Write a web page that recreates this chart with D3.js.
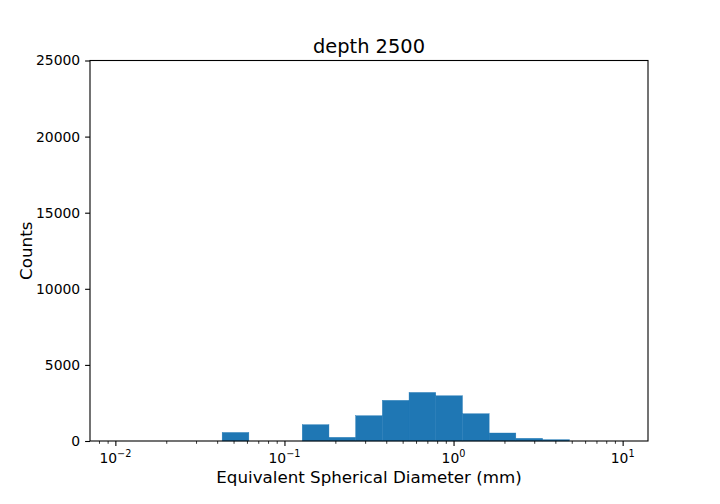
<!DOCTYPE html>
<html>
<head>
<meta charset="utf-8">
<script src="https://cdn.jsdelivr.net/npm/d3@7"></script>
<style>
  body { margin: 0; background: #fff; }
  text { font-family: "DejaVu Sans", sans-serif; fill: #000; }
</style>
</head>
<body>
<div id="chart"></div>
<script>
// bin edges (mm), log-spaced
const binEdges = [0.01, 0.014384, 0.020691, 0.029764, 0.042813, 0.061585, 0.088587,
  0.127427, 0.183298, 0.263665, 0.379269, 0.545559, 0.784760, 1.128838,
  1.623777, 2.335721, 3.359818, 4.832930, 6.951928, 10];
// counts per bin
const counts = [0, 0, 0, 0, 560, 0, 0, 1070, 240, 1660, 2670, 3190, 2970, 1790, 525, 175, 87, 0, 0];
const yTicks = [0, 5000, 10000, 15000, 20000, 25000];
const xMajor = [0.01, 0.1, 1, 10];
const xExp = ["\u22122", "\u22121", "0", "1"];

const width = 720, height = 504;
const margin = {left: 90, right: 72, top: 60.5, bottom: 63};

const svg = d3.select("#chart").append("svg")
  .attr("width", width)
  .attr("height", height);

const x = d3.scaleLog()
  .domain([Math.pow(10, -2.15), Math.pow(10, 1.15)])
  .range([margin.left, width - margin.right]);

const y = d3.scaleLinear()
  .domain([0, 25000])
  .range([height - margin.bottom, margin.top]);

const bins = counts.map((c, i) => ({x0: binEdges[i], x1: binEdges[i + 1], n: c}));

// bars (thin stroke hides the seams between neighbours)
svg.append("g")
  .selectAll("rect")
  .data(bins.filter(d => d.n > 0))
  .enter()
  .append("rect")
  .attr("x", d => x(d.x0))
  .attr("width", d => x(d.x1) - x(d.x0))
  .attr("y", d => y(d.n))
  .attr("height", d => y(0) - y(d.n))
  .attr("fill", "#1f77b4")
  .attr("stroke", "#1f77b4")
  .attr("stroke-width", 0.4);

// y axis
const yAxis = svg.append("g")
  .attr("transform", `translate(${margin.left},0)`)
  .call(d3.axisLeft(y).tickValues(yTicks).tickSize(4.9).tickPadding(4.9).tickFormat(d3.format("d")));
yAxis.select(".domain").remove();
yAxis.selectAll("text").style("font-size", "13.9px");
yAxis.selectAll("line").attr("stroke-width", 1.1);

// x axis: minor ticks
const minor = [];
[0.001, 0.01, 0.1, 1, 10].forEach(p => {
  for (let k = 2; k <= 9; k++) {
    const v = p * k;
    if (v > x.domain()[0] && v < x.domain()[1]) minor.push(v);
  }
});
const xAxisMinor = svg.append("g")
  .attr("transform", `translate(0,${height - margin.bottom})`)
  .call(d3.axisBottom(x).tickValues(minor).tickSize(2.8).tickFormat(""));
xAxisMinor.select(".domain").remove();
xAxisMinor.selectAll("line").attr("stroke-width", 0.8);

const xAxis = svg.append("g")
  .attr("transform", `translate(0,${height - margin.bottom})`)
  .call(d3.axisBottom(x).tickValues(xMajor).tickSize(4.9).tickFormat(""));
xAxis.select(".domain").remove();
xAxis.selectAll("line").attr("stroke-width", 1.1);

const lbl = svg.append("g").selectAll("text")
  .data(xMajor)
  .enter()
  .append("text")
  .attr("x", d => x(d))
  .attr("y", height - margin.bottom + 21.5)
  .attr("text-anchor", "middle")
  .style("font-size", "13.9px");
lbl.append("tspan").text("10");
lbl.append("tspan")
  .attr("dy", -6)
  .style("font-size", "9.7px")
  .text((d, i) => xExp[i]);

// frame
svg.append("rect")
  .attr("x", margin.left)
  .attr("y", margin.top)
  .attr("width", width - margin.left - margin.right)
  .attr("height", height - margin.top - margin.bottom)
  .attr("fill", "none")
  .attr("stroke", "#000")
  .attr("stroke-width", 1.1);

// title and labels
svg.append("text")
  .attr("x", (margin.left + width - margin.right) / 2)
  .attr("y", 53)
  .attr("text-anchor", "middle")
  .style("font-size", "19.4px")
  .text("depth 2500");

svg.append("text")
  .attr("x", (margin.left + width - margin.right) / 2)
  .attr("y", 483)
  .attr("text-anchor", "middle")
  .style("font-size", "16.7px")
  .text("Equivalent Spherical Diameter (mm)");

svg.append("text")
  .attr("transform", `translate(32,${(margin.top + height - margin.bottom) / 2}) rotate(-90)`)
  .attr("text-anchor", "middle")
  .style("font-size", "16.7px")
  .text("Counts");
</script>
</body>
</html>
